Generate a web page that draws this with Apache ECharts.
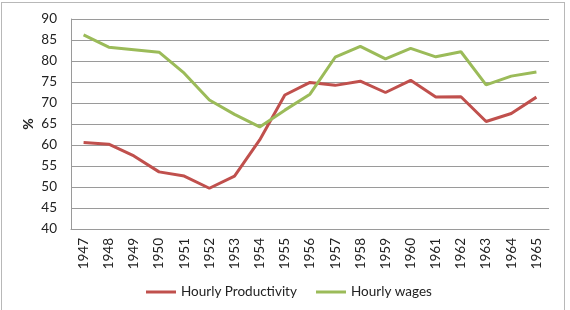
<!DOCTYPE html>
<html>
<head>
<meta charset="utf-8">
<script src="https://cdn.jsdelivr.net/npm/echarts@6/dist/echarts.min.js"></script>
<style>
  html, body { margin: 0; padding: 0; background: #fff; }
  #frame { position: absolute; left: 1px; top: 2px; width: 564px; height: 320px; border: 1px solid #b8b8b8; box-sizing: border-box; }
  #chart { position: absolute; left: 0; top: 0; width: 570px; height: 310px; }
</style>
</head>
<body>
<div id="frame"></div>
<div id="chart"></div>
<script>
// years on the x axis
const years = ['1947', '1948', '1949', '1950', '1951', '1952', '1953', '1954', '1955', '1956',
  '1957', '1958', '1959', '1960', '1961', '1962', '1963', '1964', '1965'];
// Hourly Productivity (%)
const productivity = [60.6, 60.2, 57.4, 53.6, 52.6, 49.7, 52.6, 61.2, 71.9, 74.9,
  74.2, 75.2, 72.5, 75.4, 71.4, 71.5, 65.6, 67.5, 71.4];
// Hourly wages (%)
const wages = [86.2, 83.3, 82.7, 82.1, 77.1, 70.7, 67.3, 64.3, 68.3, 72.1,
  80.9, 83.5, 80.5, 83.0, 81.0, 82.2, 74.3, 76.4, 77.4];

const font = 'Lato, "Open Sans", sans-serif';
const legendBase = {
  bottom: 6,
  icon: 'rect',
  itemWidth: 30,
  itemHeight: 3,
  textStyle: { fontSize: 13.5, color: '#222', fontFamily: font }
};
var myChart = echarts.init(document.getElementById('chart'));
var option = {
  animation: false,
  textStyle: { fontFamily: font },
  grid: { left: 71, right: 21, top: 19, bottom: 81 },
  legend: [
    Object.assign({ left: 141, data: ['Hourly Productivity'] }, legendBase),
    Object.assign({ left: 311, data: ['Hourly wages'] }, legendBase)
  ],
  xAxis: {
    type: 'category',
    data: years,
    boundaryGap: true,
    axisLine: { lineStyle: { color: '#9a9a9a', width: 1 } },
    axisTick: { show: false },
    axisLabel: { rotate: 90, margin: 9, fontSize: 13.5, color: '#222', fontFamily: font }
  },
  yAxis: {
    type: 'value',
    min: 40,
    max: 90,
    interval: 5,
    name: '%',
    nameLocation: 'middle',
    nameRotate: 90,
    nameGap: 36,
    nameMoveOverlap: false,
    nameTextStyle: { fontSize: 14, fontWeight: 'bold', color: '#222', fontFamily: font },
    axisLine: { show: true, lineStyle: { color: '#9a9a9a', width: 1 } },
    axisTick: { show: false },
    axisLabel: { margin: 14, fontSize: 13.5, color: '#222', fontFamily: font },
    splitLine: { lineStyle: { color: '#9a9a9a', width: 1 } }
  },
  series: [
    {
      name: 'Hourly Productivity',
      type: 'line',
      data: productivity,
      symbol: 'none',
      itemStyle: { color: '#c0504d' },
      lineStyle: { color: '#c0504d', width: 3 }
    },
    {
      name: 'Hourly wages',
      type: 'line',
      data: wages,
      symbol: 'none',
      itemStyle: { color: '#9bbb59' },
      lineStyle: { color: '#9bbb59', width: 3 }
    }
  ]
};
myChart.setOption(option);
</script>
</body>
</html>
